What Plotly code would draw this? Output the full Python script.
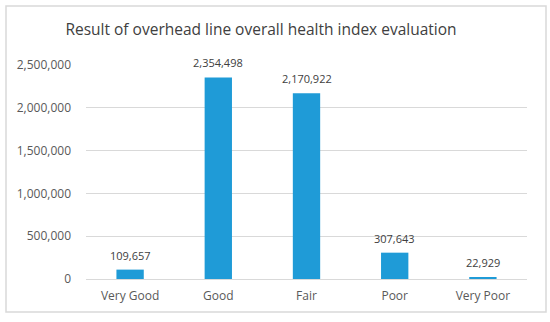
import plotly.graph_objects as go

categories = ["Very Good", "Good", "Fair", "Poor", "Very Poor"]
values = [109657, 2354498, 2170922, 307643, 22929]
y_ticks = [0, 500000, 1000000, 1500000, 2000000, 2500000]
y_tick_labels = ["0", "500,000", "1,000,000", "1,500,000", "2,000,000", "2,500,000"]

W, H = 550, 322
L, R, T, B = 86, 23, 65, 43
pw, ph = W - L - R, H - T - B

fig = go.Figure(go.Bar(
    x=categories, y=values,
    marker=dict(color="#1f9bd7", line=dict(width=0)),
    width=0.31,
))

for c, v in zip(categories, values):
    fig.add_annotation(x=c, y=v, text=f"{v:,}", showarrow=False,
                       yanchor="bottom", yshift=5,
                       font=dict(size=11, color="#404040", family="Open Sans"))

fig.update_layout(
    width=W, height=H,
    margin=dict(l=L, r=R, t=T, b=B),
    paper_bgcolor="white", plot_bgcolor="white",
    font=dict(family="Open Sans", color="#595959"),
    title=dict(text="Result of overhead line overall health index evaluation",
               x=261 / W, xanchor="center", y=1 - 30 / H, yanchor="middle",
               font=dict(size=15.5, color="#404040", family="Open Sans")),
    showlegend=False,
)
fig.update_xaxes(showgrid=False, showline=False, ticks="", ticklabelstandoff=8,
                 tickfont=dict(size=12, color="#595959"))
fig.update_yaxes(range=[0, 2500000], tickvals=y_ticks, ticktext=y_tick_labels,
                 showgrid=True, gridcolor="#d9d9d9", gridwidth=1, zeroline=True,
                 zerolinecolor="#d9d9d9", zerolinewidth=1, showline=False, ticks="",
                 tickfont=dict(size=12, color="#595959"), ticklabelstandoff=14)

# outer chart border
fig.add_shape(type="rect", xref="paper", yref="paper",
              x0=(6 - L) / pw, x1=(546 - L) / pw,
              y0=(H - B - 312) / ph, y1=(H - B - 6) / ph,
              line=dict(color="#d9d9d9", width=1.5), layer="below")

fig.write_html("out.html", config={"displayModeBar": False},
               post_script="document.body.style.margin='0';")
